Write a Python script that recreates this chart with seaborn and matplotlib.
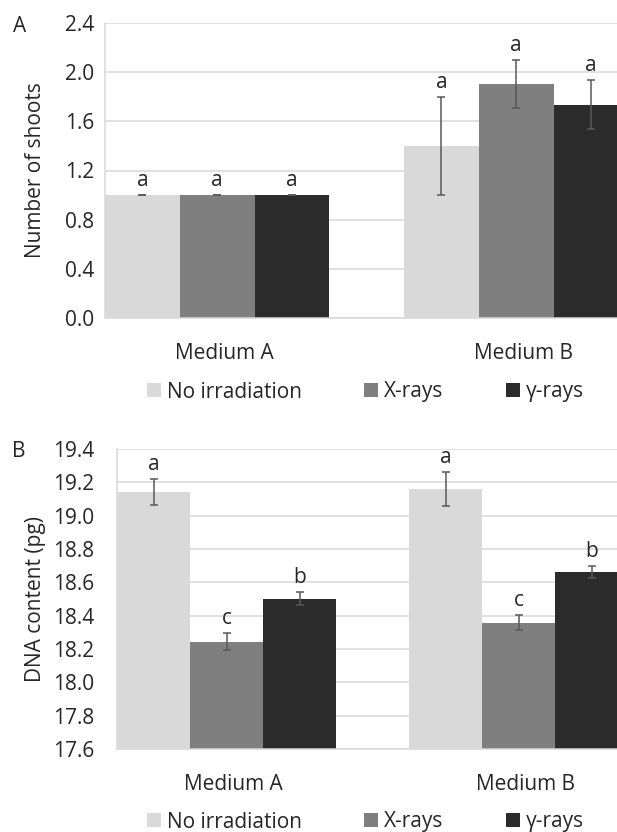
import numpy as np
import pandas as pd
import seaborn as sns
import matplotlib.pyplot as plt
from matplotlib.patches import Patch
from matplotlib.transforms import ScaledTranslation

# ---------------- data ----------------
media = ["Medium A", "Medium B"]
treatments = ["No irradiation", "X-rays", "γ-rays"]
colors = ["#D9D9D9", "#7F7F7F", "#2B2B2B"]

# Panel A: number of shoots
shoots_none = [1.00, 1.40]
shoots_xray = [1.00, 1.90]
shoots_gamma = [1.00, 1.735]
shoots_err_none = [0.0, 0.40]
shoots_err_xray = [0.0, 0.195]
shoots_err_gamma = [0.0, 0.198]
shoots_letters_none = ["a", "a"]
shoots_letters_xray = ["a", "a"]
shoots_letters_gamma = ["a", "a"]

# Panel B: DNA content (pg)
dna_none = [19.142, 19.160]
dna_xray = [18.245, 18.357]
dna_gamma = [18.503, 18.663]
dna_err_none = [0.076, 0.103]
dna_err_xray = [0.051, 0.045]
dna_err_gamma = [0.040, 0.036]
dna_letters_none = ["a", "a"]
dna_letters_xray = ["c", "c"]
dna_letters_gamma = ["b", "b"]

shoots_ticks = [0.0, 0.4, 0.8, 1.2, 1.6, 2.0, 2.4]
dna_ticks = [17.6, 17.8, 18.0, 18.2, 18.4, 18.6, 18.8, 19.0, 19.2, 19.4]


def make_df(vals, errs, letters):
    rows = []
    for t, v, e, l in zip(treatments, vals, errs, letters):
        for m, vv, ee, ll in zip(media, v, e, l):
            rows.append(dict(medium=m, treatment=t, value=vv, err=ee, letter=ll))
    return pd.DataFrame(rows)


df_a = make_df([shoots_none, shoots_xray, shoots_gamma],
               [shoots_err_none, shoots_err_xray, shoots_err_gamma],
               [shoots_letters_none, shoots_letters_xray, shoots_letters_gamma])
df_b = make_df([dna_none, dna_xray, dna_gamma],
               [dna_err_none, dna_err_xray, dna_err_gamma],
               [dna_letters_none, dna_letters_xray, dna_letters_gamma])

# ---------------- style ----------------
sns.set_theme(style="white")
plt.rcParams['font.family'] = ['Open Sans', 'DejaVu Sans']
TXT = "#262626"
FS = 15

W, H = 617, 832
fig = plt.figure(figsize=(W / 100, H / 100), dpi=100)

ax_a = fig.add_axes([105 / W, 1 - 318 / H, 512 / W, (318 - 23) / H])
ax_b = fig.add_axes([117 / W, 1 - 749 / H, 500 / W, (749 - 449) / H])


def draw(ax, df, ylim, ticks, fmt, ylabel, ypad):
    sns.barplot(data=df, x="medium", y="value", hue="treatment",
                order=media, hue_order=treatments, palette=colors,
                width=0.75, gap=0, errorbar=None, saturation=1,
                linewidth=0, legend=False, ax=ax)
    ax.set_axisbelow(True)
    ax.yaxis.grid(True, color="#D9D9D9", lw=1.1)
    ax.xaxis.grid(False)
    for s in ["top", "right"]:
        ax.spines[s].set_visible(False)
    for s in ["left", "bottom"]:
        ax.spines[s].set_color("#D9D9D9")
        ax.spines[s].set_linewidth(1.1)
    ax.set_ylim(*ylim)
    ax.set_xlim(-0.375, 1.337)
    ax.set_yticks(ticks)
    ax.set_yticklabels([fmt.format(t) for t in ticks])
    ax.tick_params(axis="y", length=0, pad=ypad, labelsize=FS, labelcolor=TXT)
    ax.tick_params(axis="x", length=0, pad=18, labelsize=FS, labelcolor=TXT)
    shift = ScaledTranslation(7 / 100, 0, fig.dpi_scale_trans)
    for lab in ax.get_xticklabels():
        lab.set_transform(lab.get_transform() + shift)
    ax.set_xlabel("")
    ax.set_ylabel(ylabel, fontsize=FS, color=TXT)

    # error bars and letters, matched left-to-right to the bars
    patches = sorted(ax.patches, key=lambda p: p.get_x())
    d = df.copy()
    d["mi"] = d["medium"].map({m: i for i, m in enumerate(media)})
    d["ti"] = d["treatment"].map({t: i for i, t in enumerate(treatments)})
    d = d.sort_values(["mi", "ti"]).reset_index(drop=True)
    for p, (_, r) in zip(patches, d.iterrows()):
        xc = p.get_x() + p.get_width() / 2
        top = p.get_y() + p.get_height()
        ax.errorbar(xc, top, yerr=r["err"], fmt="none", ecolor="#595959",
                    elinewidth=1.1, capsize=3, capthick=1.1, clip_on=False)
        ax.annotate(r["letter"], (xc, top + r["err"]), xytext=(0, 3),
                    textcoords="offset points", ha="center", va="bottom",
                    fontsize=FS, color=TXT)


draw(ax_a, df_a, (0, 2.4), shoots_ticks, "{:.1f}", "Number of shoots", 8)
draw(ax_b, df_b, (17.6, 19.4), dna_ticks, "{:.1f}", "DNA content (pg)", 16.5)
ax_a.yaxis.set_label_coords(-(105 - 46) / 512, 0.5)
ax_b.yaxis.set_label_coords(-(117 - 46) / 500, 0.5)

handles = [Patch(facecolor=c, edgecolor="none", label=t) for c, t in zip(colors, treatments)]
for yc in [1 - 392 / H, 1 - 822 / H]:
    fig.legend(handles=handles, loc="center left", bbox_to_anchor=(147 / W, yc),
               ncol=3, frameon=False, fontsize=FS, handlelength=0.65,
               handleheight=0.65, handletextpad=0.3, columnspacing=3.0,
               borderpad=0, borderaxespad=0, labelcolor=TXT)

fig.text(20 / W, 1 - 26 / H, "A", fontsize=FS, color=TXT, ha="center", va="center")
fig.text(19 / W, 1 - 452 / H, "B", fontsize=FS, color=TXT, ha="center", va="center")

fig.savefig("out.png", dpi=100)
